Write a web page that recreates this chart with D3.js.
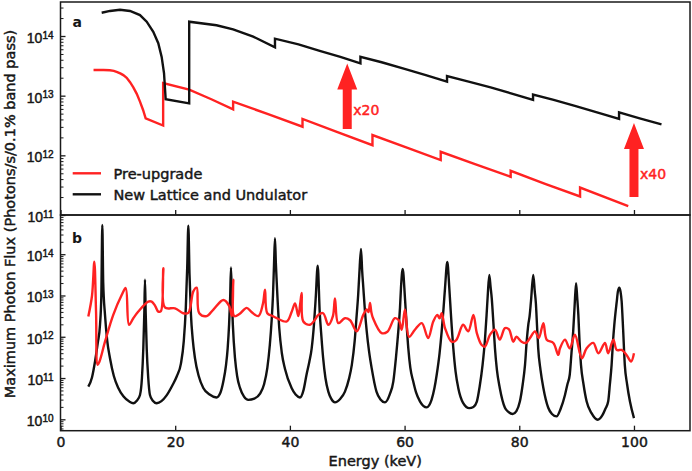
<!DOCTYPE html>
<html>
<head>
<meta charset="utf-8">
<script src="https://cdn.jsdelivr.net/npm/d3@7"></script>
<style>
  html, body { margin: 0; padding: 0; background: #fff; }
  svg { display: block; font-family: "DejaVu Sans", sans-serif; }
  svg text { stroke-width: 0.45px; paint-order: stroke; }
</style>
</head>
<body>
<svg id="chart" width="692" height="471"></svg>
<script>
// ---------------- DATA ----------------
// Panel a: flux values are given as log10(photons/s/0.1% bw)
const aNewEnergy = [7.18, 8.63, 10.37, 12.12, 13.86, 15.03, 16.18, 17.05, 17.64, 18.05, 18.34, 22.44, 22.44, 27.2, 30.1, 33.6, 37.4, 37.4, 41.5, 45.2, 48.8, 52.3, 52.3, 56, 60, 63.7, 67.4, 67.4, 71, 75, 78.7, 82.4, 82.4, 86, 90, 93.7, 97.4, 97.4, 101, 104.8];
const aNewLog10 = [14.39, 14.42, 14.44, 14.42, 14.35, 14.24, 14.07, 13.88, 13.65, 13.38, 12.94, 12.87, 14.24, 14.18, 14.11, 13.99, 13.81, 13.955, 13.86, 13.75, 13.65, 13.54, 13.65, 13.56, 13.45, 13.345, 13.235, 13.33, 13.24, 13.14, 13.035, 12.93, 13.02, 12.93, 12.82, 12.715, 12.61, 12.72, 12.62, 12.52];

const aPreEnergy = [5.76, 7.5, 8.6, 9.3, 9.9, 10.5, 10.95, 11.54, 12.1, 12.7, 13.3, 13.86, 14.4, 14.85, 17.9, 17.9, 22.44, 26.3, 30.1, 30.1, 36.2, 42.2, 42.2, 48.3, 54.4, 54.4, 60.4, 66.3, 66.3, 72.4, 78.5, 78.5, 84.5, 90.6, 90.6, 99];
const aPreLog10 = [13.43, 13.43, 13.425, 13.415, 13.395, 13.37, 13.345, 13.3, 13.23, 13.14, 13.03, 12.9, 12.76, 12.62, 12.5, 13.21, 13.1, 12.94, 12.77, 12.9, 12.69, 12.48, 12.61, 12.39, 12.17, 12.34, 12.13, 11.92, 12.06, 11.85, 11.64, 11.74, 11.52, 11.31, 11.46, 11.15];

// Panel b
const bNewEnergy = [4.85, 5.5, 6.02, 6.5, 6.89, 7.12, 7.29, 7.45, 7.76, 8.15, 8.63, 9.3, 10.08, 11.0, 12.0, 12.7, 13.3, 13.86, 14.2, 14.44, 14.62, 14.73, 14.85, 15.03, 15.3, 15.6, 16.1, 16.77, 17.6, 18.5, 19.5, 20.3, 21.0, 21.5, 21.85, 22.1, 22.29, 22.5, 22.75, 23.05, 23.45, 24.1, 24.9, 26.0, 27.2, 27.9, 28.4, 28.85, 29.15, 29.4, 29.58, 29.73, 29.88, 30.05, 30.43, 30.8, 31.3, 32.0, 32.75, 33.8, 34.8, 35.5, 36.06, 36.5, 36.82, 37.05, 37.23, 37.4, 37.55, 37.7, 38.15, 38.6, 39.15, 40.3, 41.0, 41.76, 42.4, 42.9, 43.4, 43.8, 44.2, 44.5, 44.85, 45.2, 45.5, 45.8, 46.2, 46.7, 47.2, 47.86, 48.8, 49.6, 50.3, 50.8, 51.3, 51.65, 51.9, 52.1, 52.4, 52.6, 52.8, 53.1, 53.4, 53.8, 54.26, 55.1, 55.8, 56.58, 57.4, 58.04, 58.5, 58.9, 59.2, 59.37, 59.67, 60.07, 60.35, 60.65, 61.0, 61.5, 62.0, 62.7, 63.85, 64.7, 65.2, 65.6, 66.1, 66.47, 66.8, 67.05, 67.45, 67.8, 68.1, 68.5, 68.9, 69.36, 70.2, 71.28, 72.0, 72.6, 73.1, 73.6, 74.0, 74.3, 74.5, 74.77, 75.0, 75.2, 75.5, 75.76, 76.1, 76.6, 77.5, 78.1, 78.85, 79.5, 80.1, 80.6, 81.0, 81.3, 81.57, 81.8, 82.04, 82.44, 82.7, 82.9, 83.1, 83.3, 83.7, 84.2, 85.05, 85.7, 86.5, 87.2, 87.97, 88.4, 88.8, 89.1, 89.4, 89.65, 89.9, 90.1, 90.3, 90.5, 90.76, 91.2, 91.75, 92.6, 93.67, 94.5, 95.0, 95.5, 95.8, 96.1, 96.35, 96.57, 97.0, 97.2, 97.44, 97.65, 97.85, 98.1, 98.4, 98.8, 99.3, 100];
const bNewLog10 = [10.79, 11.02, 11.4, 11.85, 12.29, 13.0, 14.71, 13.3, 12.53, 11.9, 11.48, 11.05, 10.76, 10.55, 10.43, 10.39, 10.45, 10.59, 11.0, 11.72, 12.6, 13.38, 12.6, 11.72, 11.0, 10.59, 10.45, 10.39, 10.44, 10.58, 10.82, 11.05, 11.35, 11.9, 12.7, 13.7, 14.69, 13.5, 12.53, 11.95, 11.48, 11.05, 10.76, 10.6, 10.53, 10.65, 10.92, 11.3, 11.72, 12.3, 12.93, 13.68, 12.93, 12.3, 11.48, 11.05, 10.76, 10.55, 10.47, 10.5, 10.62, 10.85, 11.24, 11.8, 12.4, 13.0, 13.74, 14.39, 13.8, 13.34, 12.2, 11.6, 11.22, 10.76, 10.6, 10.53, 10.72, 11.08, 11.4, 11.72, 12.3, 12.93, 13.72, 12.6, 12.0, 11.48, 11.0, 10.67, 10.5, 10.41, 10.5, 10.67, 10.98, 11.32, 11.9, 12.53, 13.0, 13.5, 14.13, 13.6, 13.2, 12.6, 12.13, 11.65, 11.24, 10.67, 10.48, 10.41, 10.6, 10.92, 11.5, 12.13, 12.7, 13.18, 13.64, 12.93, 12.3, 11.72, 11.25, 10.92, 10.65, 10.43, 10.29, 10.47, 10.75, 11.08, 11.6, 12.13, 12.7, 13.18, 13.81, 13.18, 12.5, 11.72, 11.15, 10.76, 10.4, 10.27, 10.3, 10.43, 10.8, 11.32, 11.9, 12.53, 13.0, 13.5, 13.2, 12.93, 12.3, 11.72, 11.2, 10.76, 10.28, 10.18, 10.13, 10.2, 10.43, 10.85, 11.32, 11.9, 12.29, 12.5, 12.86, 13.5, 13.1, 12.8, 12.25, 11.72, 11.2, 10.76, 10.28, 10.13, 10.07, 10.25, 10.59, 10.85, 11.08, 11.6, 12.13, 12.75, 13.3, 12.95, 12.53, 11.9, 11.32, 10.85, 10.43, 10.15, 9.99, 10.1, 10.25, 10.43, 10.85, 11.32, 11.9, 12.29, 12.86, 13.1, 13.19, 13.1, 12.86, 12.2, 11.32, 10.85, 10.43, 10.03];

const bPreEnergy = [4.85, 5.5, 5.9, 6.2, 6.48, 6.8, 7.76, 9.2, 10.67, 11.37, 11.95, 12.7, 13.57, 15.3, 15.9, 16.5, 17.05, 17.5, 17.93, 18.2, 19.97, 21.4, 22.3, 23.16, 23.75, 24.2, 25.5, 26.66, 28.4, 29.4, 29.9, 30.13, 30.3, 31.2, 32.47, 33.3, 34.5, 35.3, 35.66, 36.06, 37.0, 37.7, 39.45, 40.3, 40.9, 41.47, 41.8, 42.06, 42.34, 43.5, 44.3, 44.96, 45.8, 46.7, 47.5, 47.86, 48.44, 49.6, 50.5, 51.65, 52.8, 53.4, 53.7, 53.97, 54.2, 54.5, 56.0, 57.0, 58.3, 59.0, 59.5, 60.07, 60.77, 61.8, 63.0, 64.1, 65.0, 65.7, 66.1, 66.47, 67.05, 68.2, 69.0, 70.2, 71.1, 72.0, 72.6, 73.45, 74.0, 74.9, 75.76, 76.6, 77.5, 78.2, 78.95, 79.5, 80.4, 81.2, 81.87, 82.74, 83.4, 84.2, 84.78, 85.94, 86.8, 87.1, 87.97, 88.8, 89.7, 90.9, 91.75, 92.9, 93.8, 94.94, 95.5, 96.4, 97.0, 97.85, 98.7, 99.5, 100];
const bPreLog10 = [12.49, 13.0, 13.82, 12.6, 11.32, 11.4, 11.88, 12.53, 13.01, 13.18, 12.29, 12.45, 12.61, 12.85, 12.85, 12.75, 12.61, 12.62, 13.66, 12.71, 12.69, 12.57, 12.58, 13.1, 13.19, 12.57, 12.5, 12.66, 12.89, 12.75, 12.5, 13.38, 12.5, 12.55, 12.7, 12.6, 12.5, 12.8, 13.14, 12.57, 12.5, 12.45, 12.37, 12.6, 12.81, 12.5, 12.8, 13.06, 12.37, 12.29, 12.4, 12.53, 12.57, 12.29, 12.5, 12.93, 12.33, 12.45, 12.4, 12.13, 12.53, 12.66, 12.6, 12.82, 12.6, 12.45, 12.09, 12.12, 12.45, 12.4, 12.17, 12.66, 12.0, 12.17, 12.33, 11.97, 12.37, 12.53, 12.45, 12.57, 12.21, 11.88, 11.92, 12.29, 12.13, 12.53, 12.09, 11.8, 11.76, 12.05, 12.17, 11.93, 12.21, 12.18, 11.88, 12.0, 11.88, 11.85, 11.97, 12.13, 11.97, 12.33, 11.93, 11.85, 11.56, 11.72, 11.93, 11.72, 12.05, 11.48, 11.72, 11.85, 11.6, 11.85, 11.6, 11.93, 11.68, 11.68, 11.56, 11.4, 11.6];

// Arrow annotations in panel a (energy, tail/tip as log10 flux)
const arrowEnergy = [50, 100];
const arrowTailLog10 = [12.44, 11.3];
const arrowTipLog10 = [13.54, 12.54];
const arrowLabels = ["x20", "x40"];

const xTicks = [0, 20, 40, 60, 80, 100];
const aMajorExp = [11, 12, 13, 14];
const bMajorExp = [10, 11, 12, 13, 14];
const legendLabels = ["Pre-upgrade", "New Lattice and Undulator"];

// ---------------- LAYOUT ----------------
const RED = "#ff2222", BLACK = "#111111", AXIS = "#1a1a1a", TXT = "#161616";
const L = 60.5, R = 690;
const aTop = 2, aBot = 215, bTop = 215, bBot = 430.7;

const svg = d3.select("#chart");
svg.append("rect").attr("width", 692).attr("height", 471).attr("fill", "#fff");

const x = d3.scaleLinear().domain([0, 109.77]).range([L, R]);
const ya = d3.scaleLog().domain([1e11, Math.pow(10, 14.57)]).range([aBot, aTop]);
const yb = d3.scaleLog().domain([Math.pow(10, 9.724), Math.pow(10, 14.95)]).range([bBot, bTop]);

const toPts = (es, ls) => es.map((e, i) => [e, Math.pow(10, ls[i])]);

function minorVals(scale) {
  const [lo, hi] = scale.domain();
  const out = [];
  for (let n = Math.floor(Math.log10(lo)); n <= Math.ceil(Math.log10(hi)); n++) {
    for (let k = 2; k <= 9; k++) {
      const v = k * Math.pow(10, n);
      if (v >= lo && v <= hi) out.push(v);
    }
  }
  return out;
}

function drawPanel(y, top, bot, majorExp, clipId) {
  svg.append("clipPath").attr("id", clipId)
    .append("rect").attr("x", L).attr("y", top).attr("width", R - L).attr("height", bot - top);

  const gMinor = svg.append("g").attr("transform", `translate(${L},0)`)
    .call(d3.axisLeft(y).tickValues(minorVals(y)).tickSize(-3).tickFormat(""));
  gMinor.select(".domain").remove();
  gMinor.selectAll("line").attr("stroke", AXIS).attr("stroke-width", 1);

  const gMajor = svg.append("g").attr("transform", `translate(${L},0)`)
    .call(d3.axisLeft(y).tickValues(majorExp.map(n => Math.pow(10, n))).tickSize(-5).tickFormat(""));
  gMajor.select(".domain").remove();
  gMajor.selectAll("line").attr("stroke", AXIS).attr("stroke-width", 1.3);
  gMajor.selectAll(".tick text").remove();
  gMajor.selectAll(".tick").each(function(d) {
    const t = d3.select(this).append("text")
      .attr("x", -7).attr("y", 6.5)
      .attr("text-anchor", "end")
      .attr("fill", TXT).attr("stroke", TXT)
      .attr("font-size", 14);
    t.append("tspan").text("10");
    t.append("tspan").attr("font-size", 10).attr("dy", -4.5).text(String(Math.round(Math.log10(d))));
  });
}

drawPanel(ya, aTop, aBot, aMajorExp, "clipA");
drawPanel(yb, bTop, bBot, bMajorExp, "clipB");

const gxa = svg.append("g").attr("transform", `translate(0,${aBot})`)
  .call(d3.axisBottom(x).tickValues(xTicks).tickSize(-5).tickFormat(""));
gxa.select(".domain").remove();
gxa.selectAll("line").attr("stroke", AXIS).attr("stroke-width", 1.3);

const gxb = svg.append("g").attr("transform", `translate(0,${bBot})`)
  .call(d3.axisBottom(x).tickValues(xTicks).tickSize(-5).tickPadding(6));
gxb.select(".domain").remove();
gxb.selectAll("line").attr("stroke", AXIS).attr("stroke-width", 1.3);
gxb.selectAll("text").attr("font-size", 14).attr("fill", TXT).attr("stroke", TXT).attr("font-family", "DejaVu Sans");

// ---------------- LINES ----------------
const lineA = d3.line().x(d => x(d[0])).y(d => ya(d[1]));
const lineBnew = d3.line().x(d => x(d[0])).y(d => yb(d[1])).curve(d3.curveMonotoneX);
const lineBpre = d3.line().x(d => x(d[0])).y(d => yb(d[1])).curve(d3.curveCatmullRom.alpha(0.5));

const gA = svg.append("g").attr("clip-path", "url(#clipA)");
gA.append("path").datum(toPts(aPreEnergy, aPreLog10)).attr("d", lineA)
  .attr("fill", "none").attr("stroke", RED).attr("stroke-width", 2.4).attr("stroke-linejoin", "miter");
gA.append("path").datum(toPts(aNewEnergy, aNewLog10)).attr("d", lineA)
  .attr("fill", "none").attr("stroke", BLACK).attr("stroke-width", 2.4).attr("stroke-linejoin", "miter");

const gB = svg.append("g").attr("clip-path", "url(#clipB)");
gB.append("path").datum(toPts(bNewEnergy, bNewLog10)).attr("d", lineBnew)
  .attr("fill", "none").attr("stroke", BLACK).attr("stroke-width", 2.4).attr("stroke-linejoin", "round");
gB.append("path").datum(toPts(bPreEnergy, bPreLog10)).attr("d", lineBpre)
  .attr("fill", "none").attr("stroke", RED).attr("stroke-width", 2.4).attr("stroke-linejoin", "round");

// ---------------- ARROWS ----------------
const shaftHalf = 4.5, headHalf = 10, headLen = 26;
arrowEnergy.forEach((e, i) => {
  const cx = x(e);
  const yTail = ya(Math.pow(10, arrowTailLog10[i]));
  const yTip = ya(Math.pow(10, arrowTipLog10[i]));
  const yBase = yTip + headLen;
  const pts = [
    [cx - shaftHalf, yTail], [cx - shaftHalf, yBase], [cx - headHalf, yBase],
    [cx, yTip], [cx + headHalf, yBase], [cx + shaftHalf, yBase], [cx + shaftHalf, yTail]
  ];
  svg.append("path").attr("d", "M" + pts.map(p => p.join(",")).join("L") + "Z").attr("fill", RED);
  svg.append("text").attr("x", cx + 6).attr("y", (yTail + yBase) / 2 + 6)
    .attr("font-size", 14).attr("fill", RED).attr("stroke", RED).text(arrowLabels[i]);
});

// ---------------- FRAMES ----------------
[[aTop, aBot], [bTop, bBot]].forEach(([t, b]) => {
  svg.append("rect").attr("x", L).attr("y", t).attr("width", R - L).attr("height", b - t)
    .attr("fill", "none").attr("stroke", AXIS).attr("stroke-width", 1.5);
});

// ---------------- LEGEND ----------------
const legColors = [RED, BLACK];
const legY = [173.3, 194.3];
legendLabels.forEach((lab, i) => {
  svg.append("line").attr("x1", 72.7).attr("x2", 101).attr("y1", legY[i]).attr("y2", legY[i])
    .attr("stroke", legColors[i]).attr("stroke-width", 2.4);
  svg.append("text").attr("x", 113.5).attr("y", legY[i]).attr("dy", "0.36em")
    .attr("font-size", 14.5).attr("fill", TXT).attr("stroke", TXT).text(lab);
});

// ---------------- LABELS ----------------
svg.append("text").attr("x", 72.5).attr("y", 27).attr("font-size", 14).attr("font-weight", "bold").attr("fill", TXT).text("a");
svg.append("text").attr("x", 72).attr("y", 243).attr("font-size", 14).attr("font-weight", "bold").attr("fill", TXT).text("b");

svg.append("text").attr("x", (L + R) / 2).attr("y", 466).attr("text-anchor", "middle")
  .attr("font-size", 14.5).attr("fill", TXT).attr("stroke", TXT).text("Energy (keV)");

svg.append("text").attr("transform", "translate(14.5,214) rotate(-90)").attr("text-anchor", "middle")
  .attr("font-size", 14.5).attr("fill", TXT).attr("stroke", TXT).text("Maximum Photon Flux (Photons/s/0.1% band pass)");
</script>
</body>
</html>
